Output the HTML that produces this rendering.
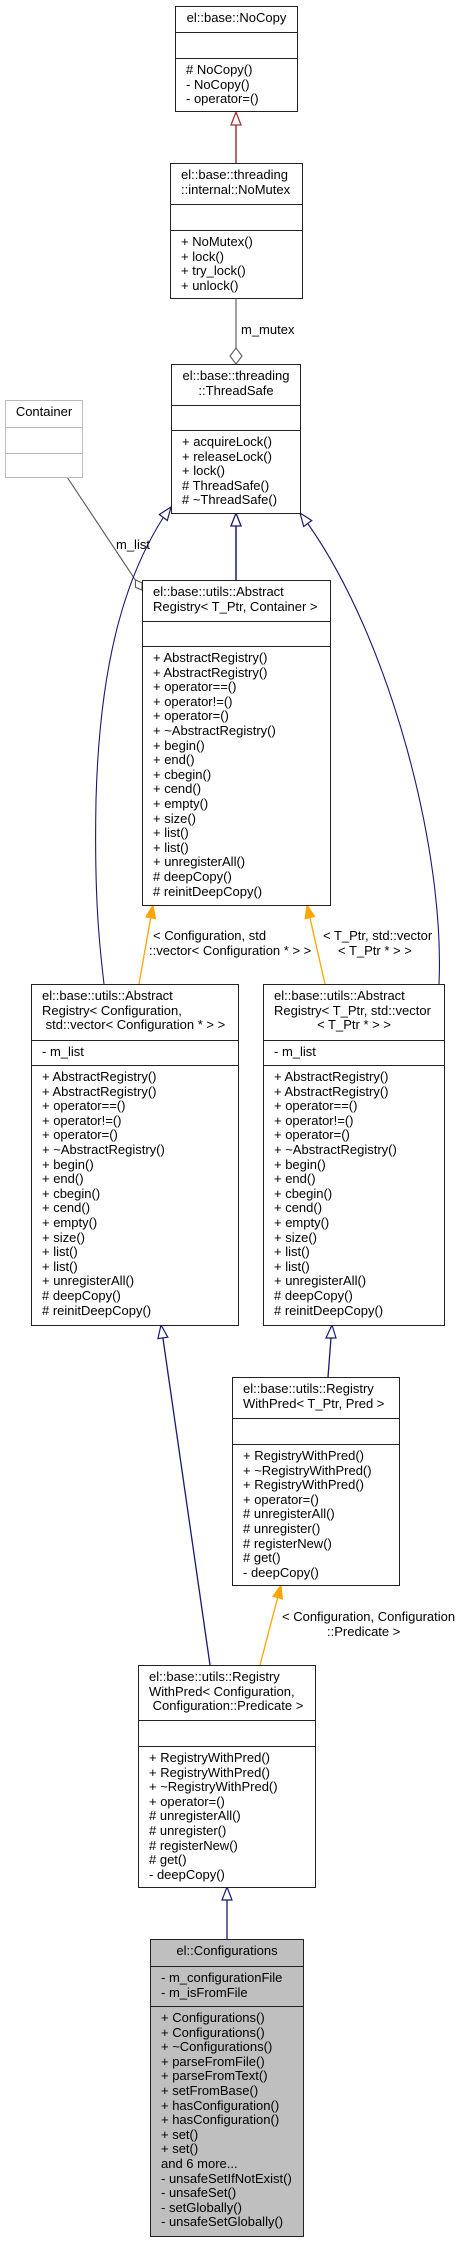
<!DOCTYPE html>
<html><head><meta charset="utf-8">
<style>
html,body{margin:0;padding:0;background:#fff;}
body{width:457px;height:2243px;position:relative;overflow:hidden;font-family:"Liberation Sans",Arial,sans-serif;font-size:13px;color:#000;}
.b{position:absolute;border:1px solid #222;background:#fff;box-sizing:border-box;}
.s{position:absolute;left:0;right:0;box-sizing:border-box;padding:4px 4px 0 10px;line-height:14.6px;white-space:pre;}
.s+.s{border-top:1px solid #222;}
.c{text-align:center;padding-left:4px;}
.g{border-color:#bbb;}
.g .s+.s{border-top-color:#bbb;}
.lb{position:absolute;white-space:pre;line-height:14.6px;}
svg{position:absolute;left:0;top:0;}
</style></head><body>
<svg width="457" height="2243" viewBox="0 0 457 2243">
<line x1="236" y1="163" x2="236" y2="125" stroke="#a83232" stroke-width="1.5"/>
<polygon points="236,112 241,125 231,125" fill="#fff" stroke="#a83232" stroke-width="1.3"/>
<line x1="236" y1="298" x2="236" y2="348" stroke="#7f7f7f" stroke-width="1.5"/>
<polygon points="236,348 242,356 236,364 230,356" fill="#fff" stroke="#666" stroke-width="1.2"/>
<line x1="67" y1="477" x2="135.4" y2="580" stroke="#555" stroke-width="1.1"/>
<polygon points="142,590 142,582.8 135.4,580 135.4,587.2" fill="#fff" stroke="#555" stroke-width="1.1"/>
<line x1="236" y1="580" x2="236" y2="526" stroke="#191970" stroke-width="1.5"/>
<polygon points="236,513 241,526 231,526" fill="#fff" stroke="#191970" stroke-width="1.3"/>
<path d="M163,518 C130,570 100,650 96,800 C94,900 100,950 104,984" fill="none" stroke="#191970" stroke-width="1.1"/>
<polygon points="171,507 167.3,520.5 159.3,514.5" fill="#fff" stroke="#191970" stroke-width="1.2"/>
<path d="M307.7,523.5 C390,640 445,850 439,984" fill="none" stroke="#191970" stroke-width="1.1"/>
<polygon points="300,513 311.7,520.5 303.7,526.5" fill="#fff" stroke="#191970" stroke-width="1.2"/>
<line x1="150.7" y1="917.8" x2="139" y2="984" stroke="#ffa500" stroke-width="1.3"/>
<polygon points="153,905 155.6,918.7 145.8,916.9" fill="#ffa500" stroke="#ffa500"/>
<line x1="309.9" y1="917.7" x2="325" y2="984" stroke="#ffa500" stroke-width="1.3"/>
<polygon points="307,905 314.8,916.6 305,918.8" fill="#ffa500" stroke="#ffa500"/>
<line x1="162.9" y1="1337.9" x2="210" y2="1665" stroke="#191970" stroke-width="1.3"/>
<polygon points="161,1325 167.8,1337.2 157.9,1338.6" fill="#fff" stroke="#191970" stroke-width="1.2"/>
<line x1="331" y1="1338" x2="328" y2="1377" stroke="#191970" stroke-width="1.3"/>
<polygon points="332,1325 336,1338 326,1338" fill="#fff" stroke="#191970" stroke-width="1.2"/>
<line x1="277.7" y1="1597.6" x2="260" y2="1665" stroke="#ffa500" stroke-width="1.3"/>
<polygon points="281,1585 282.5,1598.9 272.9,1596.3" fill="#ffa500" stroke="#ffa500"/>
<line x1="227" y1="1939" x2="227" y2="1900" stroke="#191970" stroke-width="1.3"/>
<polygon points="227,1887 232,1900 222,1900" fill="#fff" stroke="#191970" stroke-width="1.2"/>
</svg>

<div class="lb" style="left:241px;top:323px;">m_mutex</div>
<div class="lb" style="left:116px;top:538px;">m_list</div>
<div class="lb" style="left:153px;top:929px;">&lt; Configuration, std</div>
<div class="lb" style="left:149px;top:944px;">::vector&lt; Configuration * &gt; &gt;</div>
<div class="lb" style="left:323px;top:929px;">&lt; T_Ptr, std::vector</div>
<div class="lb" style="left:338px;top:944px;">&lt; T_Ptr * &gt; &gt;</div>
<div class="lb" style="left:282px;top:1610px;">&lt; Configuration, Configuration</div>
<div class="lb" style="left:327px;top:1625px;">::Predicate &gt;</div>

<div class="b" style="left:175px;top:6px;width:123px;height:106px;">
<div class="s c" style="top:0;height:25px;">el::base::NoCopy</div>
<div class="s" style="top:25px;height:26px;"></div>
<div class="s" style="top:51px;bottom:0;"># NoCopy()
- NoCopy()
- operator=()</div>
</div>

<div class="b" style="left:170px;top:163px;width:133px;height:136px;">
<div class="s" style="top:0;height:40px;">el::base::threading
::internal::NoMutex</div>
<div class="s" style="top:40px;height:26px;"></div>
<div class="s" style="top:66px;bottom:0;">+ NoMutex()
+ lock()
+ try_lock()
+ unlock()</div>
</div>

<div class="b" style="left:171px;top:364px;width:130px;height:150px;">
<div class="s c" style="top:0;height:40px;">el::base::threading
::ThreadSafe</div>
<div class="s" style="top:40px;height:25px;"></div>
<div class="s" style="top:65px;bottom:0;">+ acquireLock()
+ releaseLock()
+ lock()
# ThreadSafe()
# ~ThreadSafe()</div>
</div>

<div class="b g" style="left:5px;top:400px;width:78px;height:78px;">
<div class="s c" style="top:0;height:26px;">Container</div>
<div class="s" style="top:26px;height:26px;"></div>
<div class="s" style="top:52px;bottom:0;"></div>
</div>

<div class="b" style="left:142px;top:580px;width:189px;height:326px;">
<div class="s" style="top:0;height:40px;">el::base::utils::Abstract
Registry&lt; T_Ptr, Container &gt;</div>
<div class="s" style="top:40px;height:25px;"></div>
<div class="s" style="top:65px;bottom:0;">+ AbstractRegistry()
+ AbstractRegistry()
+ operator==()
+ operator!=()
+ operator=()
+ ~AbstractRegistry()
+ begin()
+ end()
+ cbegin()
+ cend()
+ empty()
+ size()
+ list()
+ list()
+ unregisterAll()
# deepCopy()
# reinitDeepCopy()</div>
</div>

<div class="b" style="left:31px;top:984px;width:208px;height:342px;">
<div class="s" style="top:0;height:55px;">el::base::utils::Abstract
Registry&lt; Configuration,
 std::vector&lt; Configuration * &gt; &gt;</div>
<div class="s" style="top:55px;height:25px;">- m_list</div>
<div class="s" style="top:80px;bottom:0;">+ AbstractRegistry()
+ AbstractRegistry()
+ operator==()
+ operator!=()
+ operator=()
+ ~AbstractRegistry()
+ begin()
+ end()
+ cbegin()
+ cend()
+ empty()
+ size()
+ list()
+ list()
+ unregisterAll()
# deepCopy()
# reinitDeepCopy()</div>
</div>

<div class="b" style="left:263px;top:984px;width:182px;height:342px;">
<div class="s" style="top:0;height:55px;">el::base::utils::Abstract
Registry&lt; T_Ptr, std::vector
<span style="display:block;text-align:center;margin-left:-6px;">&lt; T_Ptr * &gt; &gt;</span></div>
<div class="s" style="top:55px;height:25px;">- m_list</div>
<div class="s" style="top:80px;bottom:0;">+ AbstractRegistry()
+ AbstractRegistry()
+ operator==()
+ operator!=()
+ operator=()
+ ~AbstractRegistry()
+ begin()
+ end()
+ cbegin()
+ cend()
+ empty()
+ size()
+ list()
+ list()
+ unregisterAll()
# deepCopy()
# reinitDeepCopy()</div>
</div>

<div class="b" style="left:232px;top:1377px;width:168px;height:209px;">
<div class="s" style="top:0;height:40px;">el::base::utils::Registry
WithPred&lt; T_Ptr, Pred &gt;</div>
<div class="s" style="top:40px;height:26px;"></div>
<div class="s" style="top:66px;bottom:0;">+ RegistryWithPred()
+ ~RegistryWithPred()
+ RegistryWithPred()
+ operator=()
# unregisterAll()
# unregister()
# registerNew()
# get()
- deepCopy()</div>
</div>

<div class="b" style="left:138px;top:1665px;width:178px;height:223px;">
<div class="s" style="top:0;height:54px;">el::base::utils::Registry
WithPred&lt; Configuration,
 Configuration::Predicate &gt;</div>
<div class="s" style="top:54px;height:26px;"></div>
<div class="s" style="top:80px;bottom:0;">+ RegistryWithPred()
+ RegistryWithPred()
+ ~RegistryWithPred()
+ operator=()
# unregisterAll()
# unregister()
# registerNew()
# get()
- deepCopy()</div>
</div>

<div class="b" style="left:150px;top:1939px;width:154px;height:298px;background:#bfbfbf;">
<div class="s c" style="top:0;height:26px;">el::Configurations</div>
<div class="s" style="top:26px;height:40px;">- m_configurationFile
- m_isFromFile</div>
<div class="s" style="top:66px;bottom:0;">+ Configurations()
+ Configurations()
+ ~Configurations()
+ parseFromFile()
+ parseFromText()
+ setFromBase()
+ hasConfiguration()
+ hasConfiguration()
+ set()
+ set()
and 6 more...
- unsafeSetIfNotExist()
- unsafeSet()
- setGlobally()
- unsafeSetGlobally()</div>
</div>

</body></html>
